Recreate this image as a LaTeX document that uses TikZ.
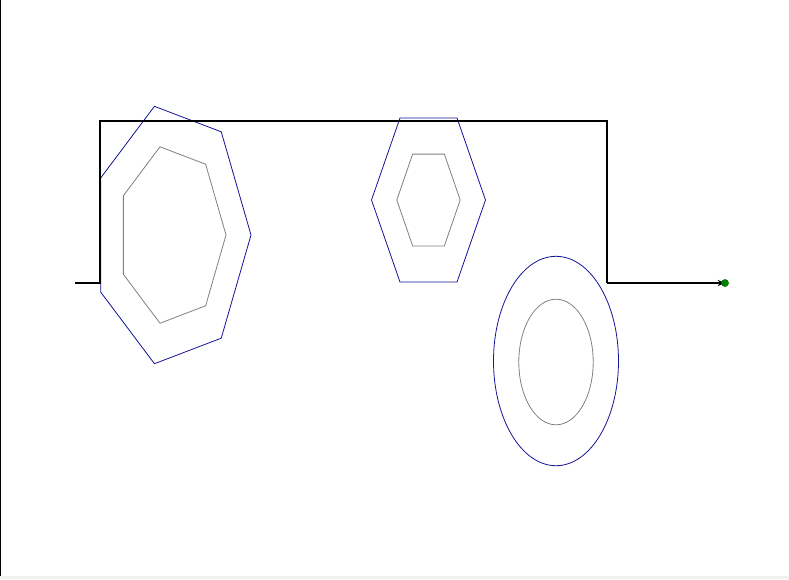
\documentclass[tikz,border=0pt]{standalone}
\usepackage{xcolor}
\usepackage{tikz}
\usetikzlibrary{arrows.meta,calc}
\definecolor{ringblue}{RGB}{20,20,150}
\tikzset{
  route/.style={draw=black, line width=1.6pt},
  arr/.style={-{Stealth[length=2.6mm,width=2.2mm]}, route},
  outer/.style={draw=ringblue, line width=0.8pt},
  inner/.style={draw=gray, line width=0.8pt},
  target/.style={circle, fill=green!50!black, inner sep=0pt, minimum size=7.5pt}
}

\begin{document}
\begin{tikzpicture}[x=1pt,y=-1pt]
\useasboundingbox (0,0) rectangle (789,579);
\fill[gray!12] (0,576) rectangle (789,579);
\draw[line width=1.4pt] (0.7,0) -- (0.7,576);

% route points
\coordinate (start) at (75,283);
\coordinate (up1) at (100,283);
\coordinate (top1) at (100,121);
\coordinate (top2) at (607,121);
\coordinate (down2) at (607,283);
\node[target] (goal) at (725,283) {};

% heptagon
\draw[outer,shift={(172,235)}] (0:79 and 132)
  \foreach \k in {1,...,6} {-- (\k*360/7:79 and 132)} -- cycle;
\draw[inner,shift={(172,235)}] (0:54 and 90.5)
  \foreach \k in {1,...,6} {-- (\k*360/7:54 and 90.5)} -- cycle;

% hexagon
\draw[outer,shift={(428.5,200)}] (0:57 and 94.7)
  \foreach \k in {1,...,5} {-- (\k*60:57 and 94.7)} -- cycle;
\draw[inner,shift={(428.5,200)}] (0:31.7 and 53)
  \foreach \k in {1,...,5} {-- (\k*60:31.7 and 53)} -- cycle;

% ellipse
\draw[outer] (556,361) ellipse [x radius=62.5pt, y radius=104.7pt];
\draw[inner] (556,362) ellipse [x radius=37.2pt, y radius=62.8pt];

\draw[route] (start) -- (up1) -- (top1) -- (top2) -- (down2);
\draw[arr] (down2) -- (goal.center);
\node[target] at (goal) {};
\end{tikzpicture}
\end{document}
